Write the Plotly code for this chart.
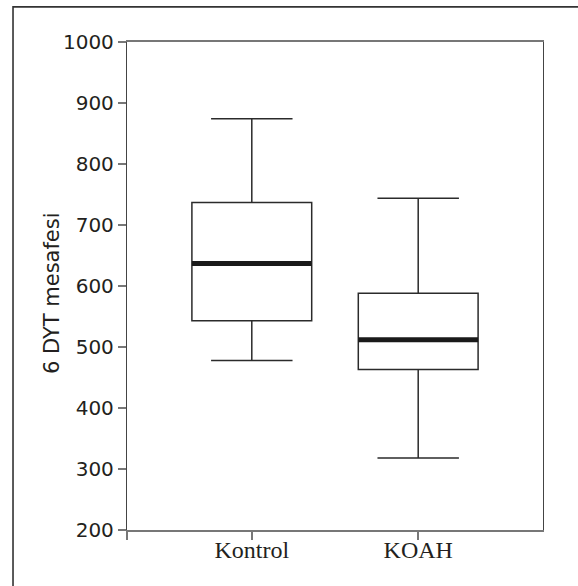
import plotly.graph_objects as go

categories = ["Kontrol", "KOAH"]
positions = [0, 1]
q1 = [543, 463]
median = [637, 512]
q3 = [737, 588]
lower_whisker = [478, 318]
upper_whisker = [874, 744]
y_ticks = [200, 300, 400, 500, 600, 700, 800, 900, 1000]
y_title = "6 DYT mesafesi"

BOX_W = 0.72
TEXT = "#231f20"
LINE = "#2b2b2b"

fig = go.Figure()
fig.add_trace(go.Box(
    x=positions, q1=q1, median=median, q3=q3,
    lowerfence=lower_whisker, upperfence=upper_whisker,
    width=BOX_W, whiskerwidth=0.68, boxpoints=False,
    fillcolor="white", line=dict(color=LINE, width=1.5),
    showlegend=False, hoverinfo="skip",
))
# thick median bars
for p, m in zip(positions, median):
    fig.add_trace(go.Scatter(
        x=[p - BOX_W / 2, p + BOX_W / 2], y=[m, m], mode="lines",
        line=dict(color="#1a1a1a", width=5), showlegend=False, hoverinfo="skip",
    ))

fig.update_layout(
    width=578, height=586,
    margin=dict(l=127, r=35, t=42, b=56),
    paper_bgcolor="white", plot_bgcolor="white",
    font=dict(family="DejaVu Sans", size=20, color=TEXT),
    xaxis=dict(
        range=[-0.75, 1.75],
        tickvals=[-0.75] + positions, ticktext=[""] + categories,
        ticks="outside", ticklen=8, tickcolor="#777", tickwidth=1.5,
        showline=True, linecolor="#777", linewidth=2, mirror=True,
        showgrid=False, zeroline=False, ticklabelstandoff=-11,
        tickfont=dict(family="Liberation Serif", size=24, color=TEXT),
    ),
    yaxis=dict(
        range=[200, 1000], tickvals=y_ticks,
        ticks="outside", ticklen=8, tickcolor="#777", tickwidth=1.5,
        showline=True, linecolor="#444", linewidth=1.3, mirror=True,
        showgrid=False, zeroline=False,
        tickfont=dict(family="DejaVu Sans", size=20, color=TEXT),
    ),
    annotations=[dict(
        text=y_title, xref="paper", yref="paper", x=-0.18, y=0.4857,
        xanchor="center", yanchor="middle", textangle=-90, showarrow=False,
        font=dict(family="DejaVu Sans", size=21, color=TEXT),
    )],
    shapes=[dict(type="rect", xref="paper", yref="paper",
                 x0=-0.274, x1=1.11, y0=-0.15, y1=1.072,
                 line=dict(color="#333", width=1.6), layer="above")],
)

fig.write_html(
    "out.html",
    config={"displayModeBar": False},
    post_script="document.body.style.margin='0';document.body.style.overflow='hidden';",
)
